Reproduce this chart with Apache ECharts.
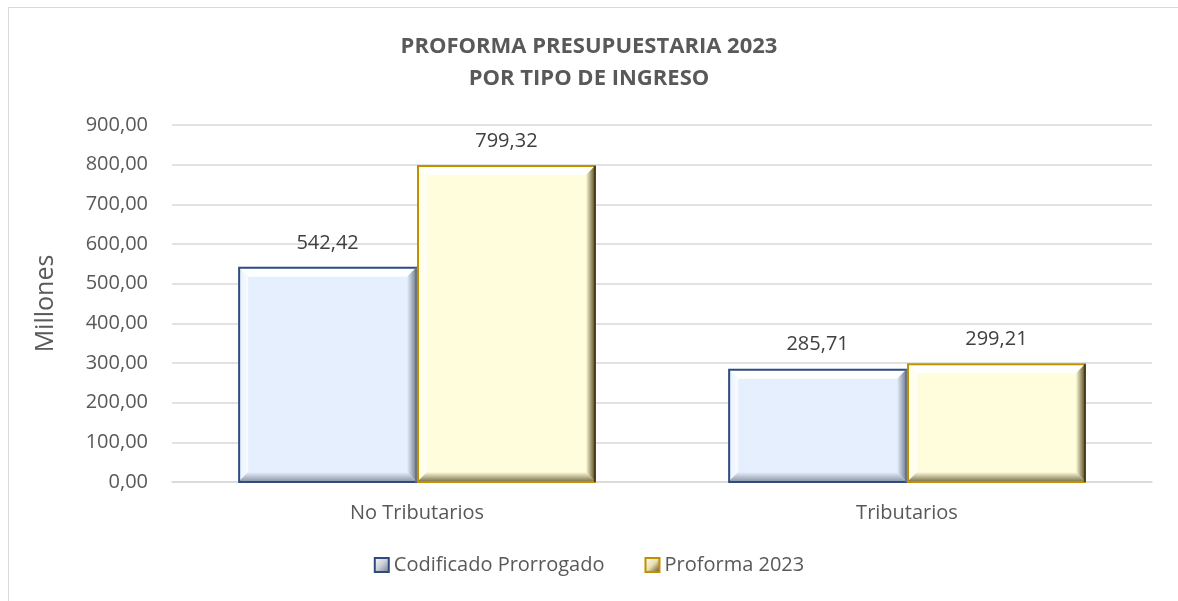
<!DOCTYPE html>
<html lang="es">
<head>
<meta charset="utf-8">
<title>Proforma presupuestaria 2023</title>
<script src="https://cdn.jsdelivr.net/npm/echarts@6.0.0/dist/echarts.min.js"></script>
<style>
    html, body { margin: 0; padding: 0; background: #fff; }
    #chart { width: 1178px; height: 601px; }
    .frame {
        position: absolute; left: 8px; top: 7px; width: 1200px; height: 620px;
        border: 1px solid #d9d9d9; box-sizing: border-box; pointer-events: none;
    }
</style>
</head>
<body>
<div id="chart"></div>
<div class="frame"></div>
<script>
    // datos
    var categorias = ['No Tributarios', 'Tributarios'];
    var codificado = [542.42, 285.71];
    var proforma = [799.32, 299.21];
    var nombres = ['Codificado Prorrogado', 'Proforma 2023'];

    var fuente = '"Open Sans", sans-serif';

    // colores de cada serie: relleno, borde, sombra derecha
    var estilos = [
        { fill: '#e6effd', border: '#2f4b80', dark: '#6b7484', light: '#ffffff' },
        { fill: '#fffddc', border: '#bf9000', dark: '#4a3c12', light: '#ffffff' }
    ];

    function fmt(v) {
        return v.toFixed(2).replace('.', ',');
    }

    // barra con biselado, posicion por las escalas de echarts
    function makeRender(idx) {
        return function (params, api) {
            var cat = api.value(0);
            var val = api.value(1);
            var top = api.coord([cat, val]);
            var base = api.coord([cat, 0]);
            var bandW = api.size([1, 0])[0];
            var w = bandW * 0.365;
            var x = idx === 0 ? top[0] - w : top[0];
            var y = top[1];
            var h = base[1] - top[1];
            var s = estilos[idx];
            var b = 10;
            return {
                type: 'group',
                children: [
                    { type: 'rect', shape: { x: x, y: y, width: w, height: h }, style: { fill: s.fill } },
                    // bisel superior
                    { type: 'polygon', shape: { points: [[x, y], [x + w, y], [x + w - b, y + b], [x + b, y + b]] },
                      style: { fill: s.light, opacity: 0.95 } },
                    // bisel izquierdo
                    { type: 'polygon', shape: { points: [[x, y], [x + b, y + b], [x + b, y + h - b], [x, y + h]] },
                      style: { fill: new echarts.graphic.LinearGradient(0, 0, 1, 0, [
                          { offset: 0, color: s.fill }, { offset: 1, color: '#ffffff' }]), opacity: 0.8 } },
                    // bisel derecho
                    { type: 'polygon', shape: { points: [[x + w, y], [x + w, y + h], [x + w - b, y + h - b], [x + w - b, y + b]] },
                      style: { fill: new echarts.graphic.LinearGradient(0, 0, 1, 0, [
                          { offset: 0, color: s.fill }, { offset: 1, color: s.dark }]) } },
                    // bisel inferior
                    { type: 'polygon', shape: { points: [[x, y + h], [x + w, y + h], [x + w - b, y + h - b], [x + b, y + h - b]] },
                      style: { fill: new echarts.graphic.LinearGradient(0, 0, 0, 1, [
                          { offset: 0, color: s.fill }, { offset: 1, color: s.dark }]), opacity: 0.75 } },
                    // borde
                    { type: 'rect', shape: { x: x + 1, y: y + 1, width: w - 2, height: h - 1 },
                      style: { fill: null, stroke: s.border, lineWidth: 2 } },
                    { type: 'line', shape: { x1: x + w - 1, y1: y + 1, x2: x + w - 1, y2: y + h },
                      style: { stroke: s.dark, lineWidth: 2 } },
                    // etiqueta
                    { type: 'text', x: x + w / 2, y: y - 24,
                      style: { text: fmt(val), fill: '#404040', font: '20px ' + fuente,
                               align: 'center', verticalAlign: 'middle' } }
                ]
            };
        };
    }

    function serie(idx, valores) {
        return {
            type: 'custom',
            name: nombres[idx],
            renderItem: makeRender(idx),
            encode: { x: 0, y: 1 },
            itemStyle: { color: estilos[idx].fill, borderColor: estilos[idx].border, borderWidth: 2 },
            data: valores.map(function (v, i) { return [i, v]; })
        };
    }

    function iconoLeyenda(idx) {
        var s = estilos[idx];
        return {
            name: nombres[idx],
            itemStyle: {
                color: new echarts.graphic.LinearGradient(0, 0, 1, 1, [
                    { offset: 0, color: '#ffffff' }, { offset: 0.5, color: idx === 0 ? '#c9ced8' : '#e8dfb0' },
                    { offset: 1, color: s.dark }]),
                borderColor: s.border,
                borderWidth: 2
            }
        };
    }

    var chart = echarts.init(document.getElementById('chart'));
    chart.setOption({
        animation: false,
        title: {
            text: 'PROFORMA PRESUPUESTARIA 2023\nPOR TIPO DE INGRESO',
            left: 'center',
            top: 26,
            textStyle: { fontFamily: fuente, fontWeight: 'bold', fontSize: 22, color: '#595959', lineHeight: 32 }
        },
        legend: {
            bottom: 21,
            left: 'center',
            itemWidth: 14,
            itemHeight: 14,
            itemGap: 40,
            icon: 'rect',
            textStyle: { fontFamily: fuente, fontSize: 20, color: '#595959' },
            data: [iconoLeyenda(0), iconoLeyenda(1)]
        },
        grid: { left: 172, right: 26, top: 125, bottom: 119 },
        xAxis: {
            type: 'category',
            data: categorias,
            axisTick: { show: false },
            axisLine: { lineStyle: { color: '#d9d9d9', width: 1.5 } },
            axisLabel: { fontFamily: fuente, fontSize: 20, color: '#595959', margin: 21 }
        },
        yAxis: {
            type: 'value',
            min: 0,
            max: 900,
            interval: 100,
            name: 'Millones',
            nameLocation: 'middle',
            nameGap: 114,
            nameRotate: 90,
            nameTextStyle: { fontFamily: fuente, fontSize: 25, color: '#595959' },
            axisLabel: { fontFamily: fuente, fontSize: 20, color: '#595959', margin: 24,
                         formatter: function (v) { return fmt(v); } },
            splitLine: { lineStyle: { color: '#d9d9d9', width: 1.5 } }
        },
        series: [serie(0, codificado), serie(1, proforma)]
    });
</script>
</body>
</html>
